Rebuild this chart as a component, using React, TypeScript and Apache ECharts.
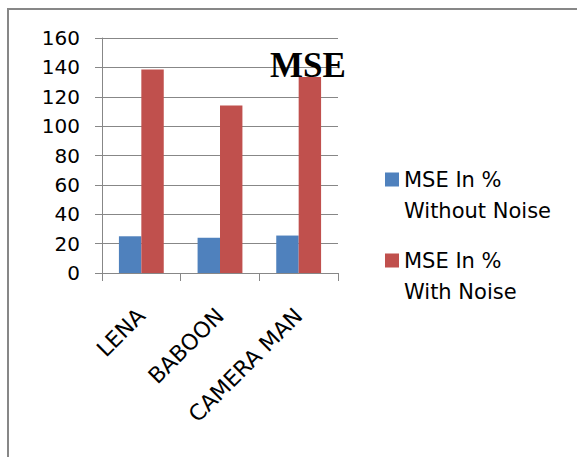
import React, { useEffect, useRef } from "react";
import * as echarts from "echarts";

const categories = ["LENA", "BABOON", "CAMERA MAN"];
const seriesNames = ["MSE In %\nWithout Noise", "MSE In %\nWith Noise"];
const withoutNoise = [25, 24, 25.5];
const withNoise = [138.5, 114, 133.5];
const colors = ["#4F81BD", "#C0504D"];
const titleText = "MSE";

export default function App() {
  const ref = useRef<HTMLDivElement>(null);
  useEffect(() => {
    if (!ref.current) return;
    const chart = echarts.init(ref.current, null, { renderer: "svg" });
    const font = "DejaVu Sans";
    const gray = "#878787";
    chart.setOption({
      animation: false,
      backgroundColor: "#ffffff",
      title: {
        text: titleText,
        left: 270,
        top: 48,
        padding: 0,
        textStyle: {
          fontFamily: "Liberation Serif",
          fontWeight: "bold",
          fontSize: 35,
          color: "#000",
        },
      },
      graphic: [
        { type: "line", shape: { x1: 7, y1: 9, x2: 577, y2: 9 }, style: { stroke: gray, lineWidth: 2 } },
        { type: "line", shape: { x1: 8, y1: 8, x2: 8, y2: 457 }, style: { stroke: gray, lineWidth: 2 } },
      ],
      legend: {
        orient: "vertical",
        left: 380,
        top: 159,
        itemWidth: 14,
        itemHeight: 45,
        itemGap: 19,
        icon: "path://M0,0L14,0L14,14L0,14Z M0,45L0.001,45L0,45.001Z",
        textStyle: {
          fontFamily: font,
          fontSize: 21,
          lineHeight: 31,
          color: "#000",
        },
      },
      grid: { left: 102, right: 239, top: 38, bottom: 184, containLabel: false },
      xAxis: {
        type: "category",
        data: categories,
        axisLine: { show: true, lineStyle: { color: gray, width: 1 } },
        axisTick: { show: true, length: 8, lineStyle: { color: gray } },
        axisLabel: {
          rotate: 45,
          margin: 39,
          fontFamily: font,
          fontSize: 22,
          color: "#000",
          interval: 0,
        },
      },
      yAxis: {
        type: "value",
        min: 0,
        max: 160,
        interval: 20,
        axisLine: { show: true, lineStyle: { color: gray, width: 1 } },
        axisTick: { show: true, length: 7, lineStyle: { color: gray } },
        splitLine: { show: true, lineStyle: { color: gray, width: 1 } },
        axisLabel: {
          margin: 22,
          fontFamily: font,
          fontSize: 20,
          color: "#000",
        },
      },
      series: [
        {
          name: seriesNames[0],
          type: "bar",
          data: withoutNoise,
          itemStyle: { color: colors[0] },
          barGap: "0%",
          barCategoryGap: "43%",
        },
        {
          name: seriesNames[1],
          type: "bar",
          data: withNoise,
          itemStyle: { color: colors[1] },
          barGap: "0%",
          barCategoryGap: "43%",
        },
      ],
    });
    return () => chart.dispose();
  }, []);
  return (
    <div
      ref={ref}
      style={{ position: "absolute", left: 0, top: 0, width: 577, height: 457 }}
    />
  );
}
